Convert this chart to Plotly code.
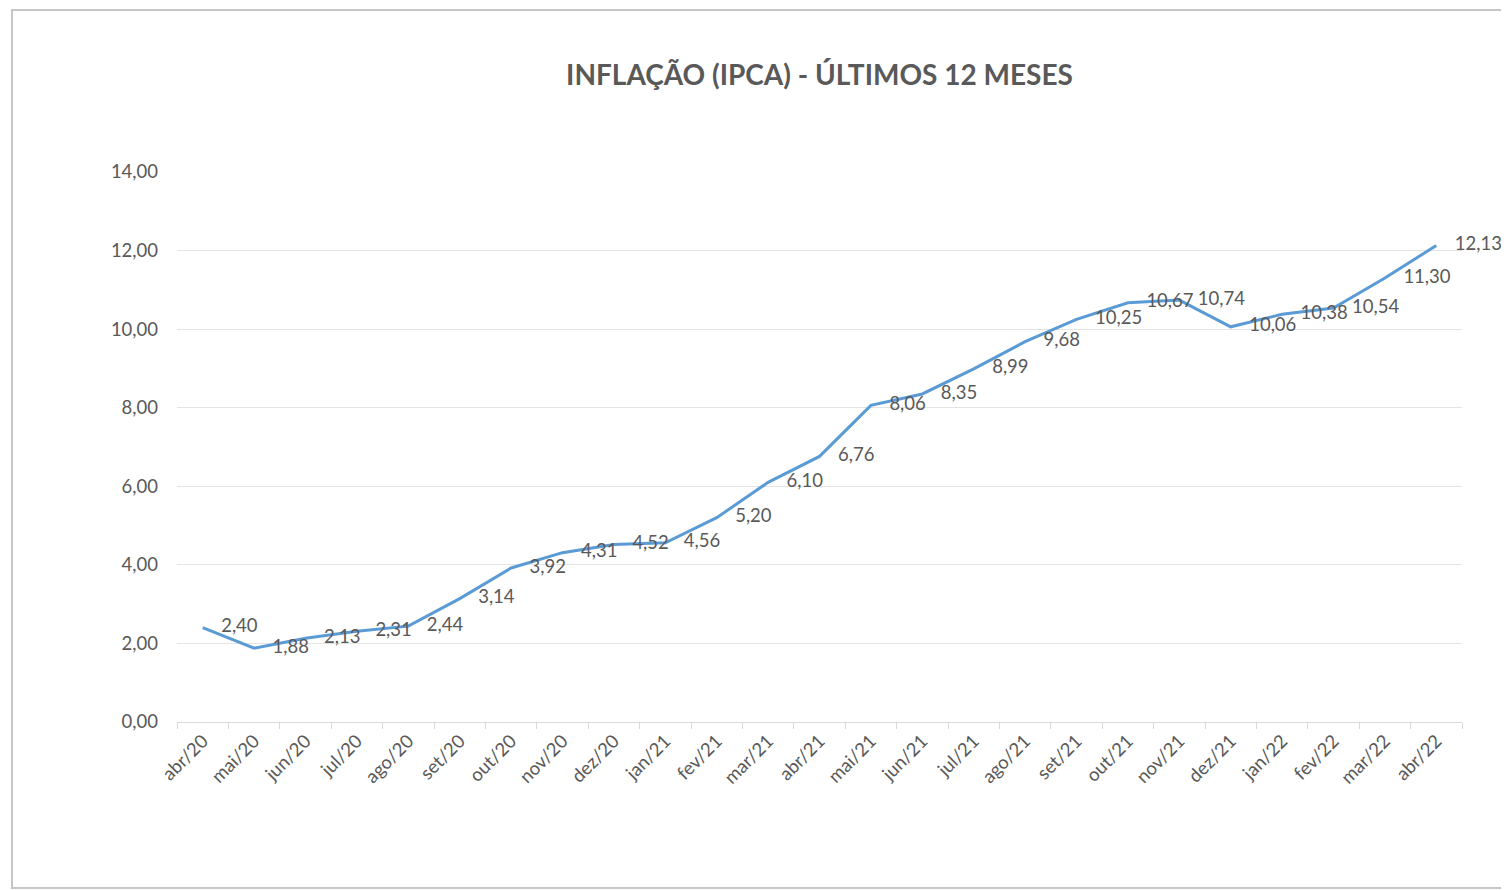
import plotly.graph_objects as go

months = ["abr/20", "mai/20", "jun/20", "jul/20", "ago/20", "set/20", "out/20", "nov/20",
          "dez/20", "jan/21", "fev/21", "mar/21", "abr/21", "mai/21", "jun/21", "jul/21",
          "ago/21", "set/21", "out/21", "nov/21", "dez/21", "jan/22", "fev/22", "mar/22", "abr/22"]
ipca = [2.40, 1.88, 2.13, 2.31, 2.44, 3.14, 3.92, 4.31, 4.52, 4.56, 5.20, 6.10, 6.76,
        8.06, 8.35, 8.99, 9.68, 10.25, 10.67, 10.74, 10.06, 10.38, 10.54, 11.30, 12.13]
y_ticks = [0, 2, 4, 6, 8, 10, 12, 14]

FONT = "Lato"
GRAY = "#595959"

fig = go.Figure()
fig.add_trace(go.Scatter(
    x=months, y=ipca,
    mode="lines+markers+text",
    line=dict(color="#5B9BD5", width=3),
    marker=dict(size=28, color="rgba(0,0,0,0)"),
    texttemplate="%{y:.2f}",
    textposition="middle right",
    textfont=dict(family=FONT, size=18.5, color=GRAY),
    cliponaxis=False,
    hoverinfo="x+y",
))

fig.update_layout(
    width=1509, height=890,
    paper_bgcolor="white", plot_bgcolor="white",
    separators=",.",
    showlegend=False,
    margin=dict(l=169, r=55, t=164, b=176),
    title=dict(
        text="<b>INFLAÇÃO (IPCA) - ÚLTIMOS 12 MESES</b>",
        x=0.5, xref="paper", y=1 - 67 / 890, yref="container",
        xanchor="center", yanchor="middle",
        font=dict(family=FONT, size=28, color=GRAY),
    ),
    xaxis=dict(
        type="category", range=[-0.5, len(months) - 0.5],
        tickson="boundaries", ticks="outside", ticklen=6, tickcolor="#d9d9d9",
        showline=True, linecolor="#d9d9d9", linewidth=1,
        showgrid=False, zeroline=False,
        tickangle=-45,
        tickfont=dict(family=FONT, size=18.5, color=GRAY),
    ),
    yaxis=dict(
        range=[0, 14], tickvals=y_ticks, tickformat=".2f",
        showgrid=True, gridcolor="#e4e4e4", gridwidth=1,
        zeroline=False, showline=False, ticks="",
        ticklabelstandoff=18,
        tickfont=dict(family=FONT, size=18.5, color=GRAY),
    ),
)

# chart frame
fig.add_shape(type="rect", xref="paper", yref="paper",
              x0=(12 - 177) / 1285, x1=(1520 - 177) / 1285,
              y0=(722 - 888) / 550, y1=(722 - 10) / 550,
              line=dict(color="#c6c6c6", width=2), layer="below")

fig.write_html("out.html")
